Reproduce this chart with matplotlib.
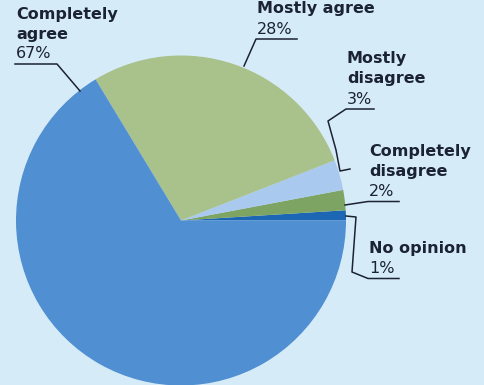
import matplotlib
matplotlib.use("Agg")
import matplotlib.pyplot as plt

# survey answers, in drawing order (counter-clockwise from 3 o'clock)
names = ["No opinion", "Completely\ndisagree", "Mostly\ndisagree",
         "Mostly agree", "Completely\nagree"]
shares = [1, 2, 3, 28, 67]
colors = ["#1c66b4", "#7ea463", "#a9c9ee", "#a9c18b", "#4f8fd2"]

W, H = 484, 385
BG = "#d6ebf8"
INK = "#1b2233"


def main():
    fig = plt.figure(figsize=(W / 100, H / 100), dpi=100, facecolor=BG)
    ax = fig.add_axes([0, 0, 1, 1])
    ax.set_facecolor(BG)

    ax.pie(shares, colors=colors, startangle=0, counterclock=True,
           center=(181, H - 220.5), radius=165, frame=True,
           wedgeprops=dict(linewidth=0))
    ax.set_xlim(0, W)
    ax.set_ylim(0, H)
    ax.set_aspect("equal")
    ax.axis("off")

    def label(i, x, base, leader, ul_end, from_right=False):
        y = base
        for ln in names[i].split("\n"):
            ax.text(x, H - y, ln, fontsize=11.5, fontweight="bold",
                    color=INK, va="baseline", ha="left")
            y += 20
        ax.text(x, H - y, f"{shares[i]}%", fontsize=11.5, color=INK,
                va="baseline", ha="left")
        uy = y + 5.5
        if from_right:
            pts = [(x - 1, uy), (ul_end, uy)] + leader
        else:
            pts = [(ul_end, uy), (x - 1, uy)] + leader
        ax.plot([p[0] for p in pts], [H - p[1] for p in pts],
                color=INK, lw=1.1, solid_joinstyle="round")

    # leader lines run from the underline into the slice
    label(4, 16, 18.5, [(80, 91)], 57, from_right=True)
    label(3, 257, 13.5, [(244, 66)], 297)
    label(2, 347, 63.5, [(328, 121), (336, 150), (340, 171), (350, 169)], 374)
    label(1, 369, 156, [(345, 205)], 399)
    # this one bends back up to the thin slice
    label(0, 369, 253, [(352, 272), (356, 217), (346, 216)], 399)

    fig.savefig("out.png", dpi=100, facecolor=BG)


if __name__ == "__main__":
    main()
